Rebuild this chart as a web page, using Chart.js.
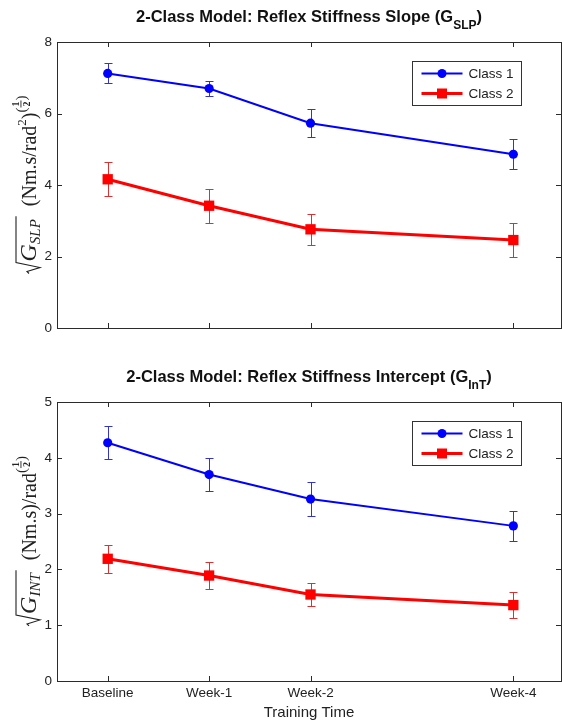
<!DOCTYPE html>
<html>
<head>
<meta charset="utf-8">
<script src="https://cdn.jsdelivr.net/npm/chart.js@4.4.1/dist/chart.umd.min.js"></script>
<style>
  html, body { margin: 0; padding: 0; background: #fff; }
  #wrap { position: relative; width: 562px; height: 723px; overflow: hidden; }
  .panel { position: absolute; left: 0; width: 562px; }
  canvas { display: block; }
</style>
</head>
<body>
<div id="wrap">
  <div class="panel" style="top:0;height:360px"><canvas id="slpChart" width="562" height="360"></canvas></div>
  <div class="panel" style="top:360px;height:363px"><canvas id="intChart" width="562" height="363"></canvas></div>
</div>
<script>
// x positions of the sessions (weeks) and their tick names
const weeks = [0, 1, 2, 4];
const weekNames = ['Baseline', 'Week-1', 'Week-2', 'Week-4'];
const seriesNames = ['Class 1', 'Class 2'];

// reflex stiffness slope, mean and error
const slpClass1 = [7.12, 6.70, 5.73, 4.86];
const slpClass1Err = [0.28, 0.20, 0.39, 0.42];
const slpClass2 = [4.16, 3.42, 2.76, 2.46];
const slpClass2Err = [0.48, 0.48, 0.44, 0.48];

// reflex stiffness intercept, mean and error
const intClass1 = [4.27, 3.70, 3.26, 2.78];
const intClass1Err = [0.30, 0.29, 0.30, 0.27];
const intClass2 = [2.19, 1.89, 1.55, 1.36];
const intClass2Err = [0.25, 0.25, 0.21, 0.23];

const sans = '"Liberation Sans", Arial, sans-serif';
const serif = '"Liberation Serif", "DejaVu Serif", serif';
const axisColor = '#2b2b2b';

function partWidth(ctx, p) {
  if (p.rad) {
    let w = 13;
    p.rad.forEach(q => { w += partWidth(ctx, q); });
    return w + 3;
  }
  ctx.font = p.font;
  if (p.frac) return Math.max(ctx.measureText(p.frac[0]).width, ctx.measureText(p.frac[1]).width) + 2;
  return ctx.measureText(p.t).width;
}

function drawPart(ctx, p, x, base) {
  const dy = p.dy || 0;
  if (p.rad) {
    const w = partWidth(ctx, p);
    ctx.save();
    ctx.lineWidth = 1.1;
    ctx.strokeStyle = '#222';
    ctx.beginPath();
    ctx.moveTo(x + 1, base - 7);
    ctx.lineTo(x + 3, base - 9);
    ctx.lineTo(x + 7, base + 4);
    ctx.lineTo(x + 12, base - 20);
    ctx.lineTo(x + w, base - 20);
    ctx.stroke();
    ctx.restore();
    let cx = x + 13;
    p.rad.forEach(q => { drawPart(ctx, q, cx, base); cx += partWidth(ctx, q); });
    return;
  }
  ctx.font = p.font;
  if (p.frac) {
    const w = partWidth(ctx, p);
    ctx.textAlign = 'center';
    ctx.fillText(p.frac[0], x + w / 2, base + dy - 3);
    ctx.fillText(p.frac[1], x + w / 2, base + dy + 8);
    ctx.fillRect(x, base + dy - 1.5, w, 0.9);
    ctx.textAlign = 'left';
    return;
  }
  ctx.fillText(p.t, x, base + dy);
}

const matlabFrame = {
  id: 'matlabFrame',
  beforeDatasetsDraw(chart) {
    // error bars under the markers
    const ctx = chart.ctx;
    const xs = chart.scales.x, ys = chart.scales.y;
    chart.data.datasets.forEach(ds => {
      ctx.save();
      ctx.strokeStyle = ds.errColor;
      ctx.lineWidth = 1;
      ds.data.forEach((p, i) => {
        const px = Math.round(xs.getPixelForValue(p.x)) + 0.5;
        const top = Math.round(ys.getPixelForValue(p.y + ds.err[i])) + 0.5;
        const bot = Math.round(ys.getPixelForValue(p.y - ds.err[i])) + 0.5;
        ctx.beginPath();
        ctx.moveTo(px, top); ctx.lineTo(px, bot);
        ctx.moveTo(px - 4, top); ctx.lineTo(px + 4, top);
        ctx.moveTo(px - 4, bot); ctx.lineTo(px + 4, bot);
        ctx.stroke();
      });
      ctx.restore();
    });
  },
  afterDraw(chart, args, opts) {
    const ctx = chart.ctx;
    const a = chart.chartArea;
    const xs = chart.scales.x, ys = chart.scales.y;
    ctx.save();
    // box
    ctx.strokeStyle = axisColor;
    ctx.lineWidth = 1;
    ctx.strokeRect(Math.round(a.left) + 0.5, Math.round(a.top) + 0.5,
      Math.round(a.right - a.left), Math.round(a.bottom - a.top));
    // inward ticks on all four sides
    ctx.beginPath();
    weeks.forEach(w => {
      const px = Math.round(xs.getPixelForValue(w)) + 0.5;
      ctx.moveTo(px, a.bottom); ctx.lineTo(px, a.bottom - 5);
      ctx.moveTo(px, a.top); ctx.lineTo(px, a.top + 5);
    });
    ys.ticks.forEach(t => {
      const py = Math.round(ys.getPixelForValue(t.value)) + 0.5;
      ctx.moveTo(a.left, py); ctx.lineTo(a.left + 5, py);
      ctx.moveTo(a.right, py); ctx.lineTo(a.right - 5, py);
    });
    ctx.stroke();

    // title with subscript
    ctx.fillStyle = '#111';
    ctx.textBaseline = 'alphabetic';
    const mainFont = `bold 16.5px ${sans}`, subFont = `bold 12px ${sans}`;
    ctx.font = mainFont;
    const w1 = ctx.measureText(opts.title[0]).width;
    const w3 = ctx.measureText(opts.title[2]).width;
    ctx.font = subFont;
    const w2 = ctx.measureText(opts.title[1]).width;
    let tx = (a.left + a.right) / 2 - (w1 + w2 + w3) / 2;
    const ty = a.top - 20;
    ctx.font = mainFont; ctx.fillText(opts.title[0], tx, ty); tx += w1;
    ctx.font = subFont; ctx.fillText(opts.title[1], tx, ty + 7); tx += w2;
    ctx.font = mainFont; ctx.fillText(opts.title[2], tx, ty);

    // rotated y label
    ctx.save();
    ctx.fillStyle = '#222';
    ctx.translate(0, (a.top + a.bottom) / 2);
    ctx.rotate(-Math.PI / 2);
    let total = 0;
    opts.ylabel.forEach(p => { total += partWidth(ctx, p); });
    let lx = -total / 2;
    opts.ylabel.forEach(p => { drawPart(ctx, p, lx, 36); lx += partWidth(ctx, p); });
    ctx.restore();

    // legend box
    const bx = 412.5, by = Math.round(a.top) + 19.5, bw = 109, bh = 44;
    ctx.fillStyle = '#fff';
    ctx.fillRect(bx, by, bw, bh);
    ctx.strokeStyle = '#333';
    ctx.strokeRect(bx, by, bw, bh);
    chart.data.datasets.forEach((ds, i) => {
      const ry = by + 12 + i * 20;
      ctx.strokeStyle = ds.borderColor;
      ctx.lineWidth = ds.borderWidth;
      ctx.beginPath(); ctx.moveTo(bx + 9, ry); ctx.lineTo(bx + 50, ry); ctx.stroke();
      ctx.fillStyle = ds.backgroundColor;
      if (ds.pointStyle === 'rect') {
        ctx.fillRect(bx + 29.5 - 5, ry - 5, 10, 10);
      } else {
        ctx.beginPath(); ctx.arc(bx + 29.5, ry, 4.5, 0, Math.PI * 2); ctx.fill();
      }
      ctx.fillStyle = '#222';
      ctx.font = `13.5px ${sans}`;
      ctx.textBaseline = 'middle';
      ctx.fillText(ds.label, bx + 56, ry + 1);
      ctx.textBaseline = 'alphabetic';
    });
    ctx.restore();
  }
};

function buildChart(id, c1, e1, c2, e2, yMax, yStep, showX, xHeight, title, ylabel) {
  return new Chart(document.getElementById(id).getContext('2d'), {
    type: 'line',
    data: {
      datasets: [
        {
          label: seriesNames[0],
          data: weeks.map((w, i) => ({ x: w, y: c1[i] })),
          err: e1,
          errColor: '#3434c8',
          borderColor: '#0000ff',
          backgroundColor: '#0000ff',
          borderWidth: 2,
          pointStyle: 'circle',
          pointRadius: 4.6,
          pointBorderWidth: 0,
          tension: 0
        },
        {
          label: seriesNames[1],
          data: weeks.map((w, i) => ({ x: w, y: c2[i] })),
          err: e2,
          errColor: '#dd3030',
          borderColor: '#ff0000',
          backgroundColor: '#ff0000',
          borderWidth: 3,
          pointStyle: 'rect',
          pointRadius: 7.3,
          pointBorderWidth: 0,
          tension: 0
        }
      ]
    },
    options: {
      responsive: false,
      animation: false,
      layout: { autoPadding: false, padding: { top: 42, right: 1, left: 0, bottom: 0 } },
      plugins: {
        legend: { display: false },
        tooltip: { enabled: false },
        matlabFrame: { title: title, ylabel: ylabel }
      },
      scales: {
        x: {
          type: 'linear',
          min: -0.5,
          max: 4.47,
          afterBuildTicks: s => { s.ticks = weeks.map(v => ({ value: v })); },
          afterFit: s => { s.height = xHeight; },
          grid: { display: false, drawTicks: false },
          border: { display: false },
          ticks: {
            display: showX,
            autoSkip: false,
            maxRotation: 0,
            padding: 4,
            color: '#222',
            font: { family: sans, size: 13.5 },
            callback: v => weekNames[weeks.indexOf(v)]
          },
          title: {
            display: showX,
            text: 'Training Time',
            color: '#222',
            font: { family: sans, size: 15 },
            padding: { top: 0, bottom: 1 }
          }
        },
        y: {
          min: 0,
          max: yMax,
          afterFit: s => { s.width = 57; },
          grid: { display: false, drawTicks: false },
          border: { display: false },
          ticks: {
            stepSize: yStep,
            padding: 5,
            color: '#222',
            font: { family: sans, size: 13.5 }
          }
        }
      }
    },
    plugins: [matlabFrame]
  });
}

const slpLabel = [
  { rad: [
    { t: 'G', font: `italic 24px ${serif}` },
    { t: 'SLP', font: `italic 15px ${serif}`, dy: 4 }
  ] },
  { t: '  (Nm.s/rad', font: `20px ${serif}` },
  { t: '2', font: `13px ${serif}`, dy: -10 },
  { t: ')', font: `20px ${serif}` },
  { t: '(', font: `15px ${serif}`, dy: -10 },
  { frac: ['1', '2'], font: `bold 10px ${serif}`, dy: -14 },
  { t: ')', font: `15px ${serif}`, dy: -10 }
];

const intLabel = [
  { rad: [
    { t: 'G', font: `italic 24px ${serif}` },
    { t: 'INT', font: `italic 15px ${serif}`, dy: 4 }
  ] },
  { t: '  (Nm.s)/rad', font: `20px ${serif}` },
  { t: '(', font: `15px ${serif}`, dy: -10 },
  { frac: ['1', '2'], font: `bold 10px ${serif}`, dy: -14 },
  { t: ')', font: `15px ${serif}`, dy: -10 }
];

buildChart('slpChart', slpClass1, slpClass1Err, slpClass2, slpClass2Err, 8, 2, false, 32,
  ['2-Class Model: Reflex Stiffness Slope (G', 'SLP', ')'], slpLabel);
buildChart('intChart', intClass1, intClass1Err, intClass2, intClass2Err, 5, 1, true, 42,
  ['2-Class Model: Reflex Stiffness Intercept (G', 'InT', ')'], intLabel);
</script>
</body>
</html>
